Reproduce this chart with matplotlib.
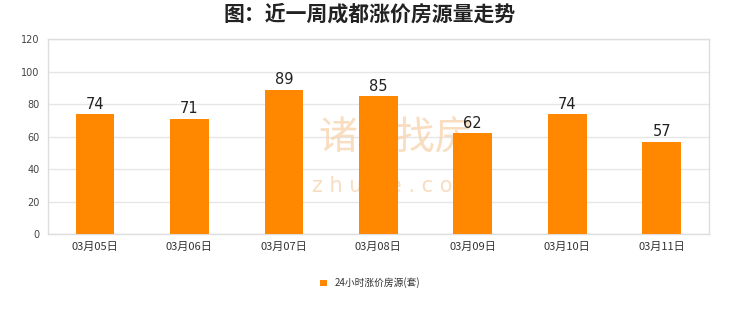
import matplotlib
matplotlib.use("Agg")
import matplotlib.pyplot as plt
import numpy as np

plt.rcParams['font.family'] = ['Noto Sans CJK SC', 'DejaVu Sans']

categories = ["03月05日", "03月06日", "03月07日", "03月08日", "03月09日", "03月10日", "03月11日"]
values = [74, 71, 89, 85, 62, 74, 57]
series_name = "24小时涨价房源(套)"
title = "图：近一周成都涨价房源量走势"
yticks = [0, 20, 40, 60, 80, 100, 120]

bar_color = "#FF8800"
grid_color = "#E6E6E6"

fig = plt.figure(figsize=(7.4, 3.12), dpi=100)
ax = fig.add_axes([0.0645, 0.25, 0.8935, 0.624])

x = np.arange(len(categories))
bars = ax.bar(x, values, width=0.41, color=bar_color, zorder=3, label=series_name)
for xi, v in zip(x, values):
    ax.text(xi, v + 1.5, str(v), ha='center', va='bottom', fontsize=10.5,
            color='#222222', zorder=4, family='DejaVu Sans')

ax.set_xlim(-0.5, len(categories) - 0.5)
ax.set_ylim(0, 120)
ax.set_yticks(yticks)
ax.set_yticklabels([str(t) for t in yticks], fontsize=7, color='#444444', family='DejaVu Sans')
ax.set_xticks(x)
ax.set_xticklabels(categories, fontsize=8, color='#333333')
ax.tick_params(axis='both', length=0, pad=6)
ax.yaxis.grid(True, color=grid_color, linewidth=1, zorder=0)
ax.set_axisbelow(True)
for s in ax.spines.values():
    s.set_color('#DDDDDD')
    s.set_linewidth(1)

# watermark (behind the bars)
ax.text(0.535, 0.555, "诸葛找房", fontsize=28, color='#F7D2AC', alpha=0.75,
        ha='center', va='center', zorder=2, transform=fig.transFigure)
ax.text(0.535, 0.405, "z h u g e . c o m", fontsize=15, color='#F7D2AC', alpha=0.75,
        ha='center', va='center', zorder=2, transform=fig.transFigure, family='DejaVu Sans')

fig.suptitle(title, fontsize=15, fontweight='bold', color='#222222', y=0.99)

leg = fig.legend(handles=[bars], labels=[series_name], loc='center', bbox_to_anchor=(0.5, 0.093),
                 frameon=False, fontsize=7, handlelength=0.7, handleheight=0.7,
                 handletextpad=0.8, labelcolor='#333333')

fig.savefig("out.png", dpi=100, facecolor='white')
